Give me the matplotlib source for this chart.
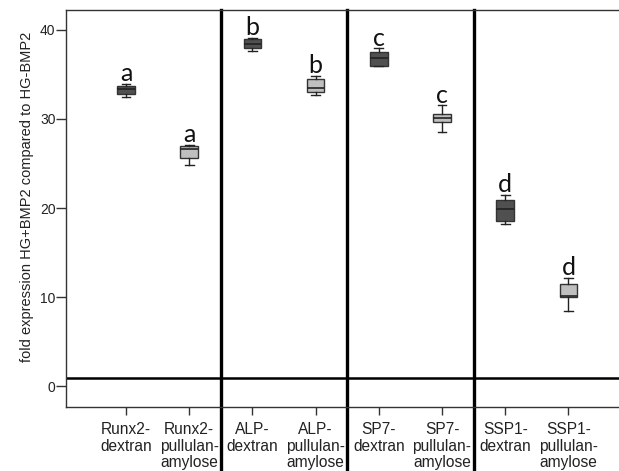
import matplotlib
matplotlib.use("Agg")
import matplotlib.pyplot as plt

categories = ["Runx2-\ndextran", "Runx2-\npullulan-\namylose",
              "ALP-\ndextran", "ALP-\npullulan-\namylose",
              "SP7-\ndextran", "SP7-\npullulan-\namylose",
              "SSP1-\ndextran", "SSP1-\npullulan-\namylose"]
whislo = [32.5, 24.8, 37.6, 32.7, 35.9, 28.5, 18.2, 8.5]
q1     = [32.8, 25.6, 37.9, 33.0, 35.95, 29.6, 18.5, 10.0]
med    = [33.3, 26.6, 38.4, 33.5, 36.8, 30.1, 19.9, 10.1]
q3     = [33.7, 26.9, 38.9, 34.5, 37.5, 30.5, 20.9, 11.5]
whishi = [33.9, 27.1, 39.1, 34.8, 37.9, 31.5, 21.5, 12.2]
letters = ["a", "a", "b", "b", "c", "c", "d", "d"]
yticks = [0, 10, 20, 30, 40]
ylabel = "fold expression HG+BMP2 compared to HG-BMP2"
baseline = 1

fig = plt.figure(figsize=(6.19, 4.71), dpi=100)
ax = fig.add_axes([66/619, 1-407/471, 1-66/619, (407-10)/471])

stats = []
for i in range(len(categories)):
    stats.append(dict(med=med[i], q1=q1[i], q3=q3[i],
                      whislo=whislo[i], whishi=whishi[i], fliers=[]))
positions = list(range(len(categories)))
bp = ax.bxp(stats, positions=positions, widths=0.28, patch_artist=True,
            showfliers=False, capwidths=0.14,
            boxprops=dict(edgecolor="#333333", linewidth=1.0),
            medianprops=dict(color="#222222", linewidth=1.2),
            whiskerprops=dict(color="#222222", linewidth=1.0),
            capprops=dict(color="#222222", linewidth=1.0))
for i, patch in enumerate(bp["boxes"]):
    patch.set_facecolor("#505050" if i % 2 == 0 else "#bfbfbf")

for i, lt in enumerate(letters):
    ax.text(positions[i], whishi[i] + 0.3, lt, ha="center", va="baseline",
            fontsize=18, family="Lato", color="#111111")

ax.axhline(baseline, color="black", linewidth=1.8, zorder=1)
for xs in [1.5, 3.5, 5.5]:
    ax.axvline(xs, ymin=-0.2, ymax=1, color="black", linewidth=2.4,
               clip_on=False, zorder=1)

ax.set_xlim(-0.95, 7.8)
ax.set_ylim(-2.3, 42.2)
ax.set_yticks(yticks)
ax.set_xticks(positions)
ax.set_xticklabels(categories, fontsize=11.2, family="Liberation Sans",
                   linespacing=1.12, color="#222222")
ax.set_yticklabels([str(v) for v in yticks], fontsize=10,
                   family="Liberation Sans", color="#222222")
ax.tick_params(axis="y", length=7, width=1, color="#333333", pad=0.5)
ax.tick_params(axis="x", length=6, width=1, color="#333333", pad=5)
ax.set_ylabel(ylabel, fontsize=10.5, family="Liberation Sans", color="#222222")
ax.yaxis.set_label_coords(-0.058, 0.53)
for s in ["left", "bottom", "top"]:
    ax.spines[s].set_color("#333333")
    ax.spines[s].set_linewidth(1.0)
ax.spines["right"].set_visible(False)

fig.savefig("out.png", dpi=100)
